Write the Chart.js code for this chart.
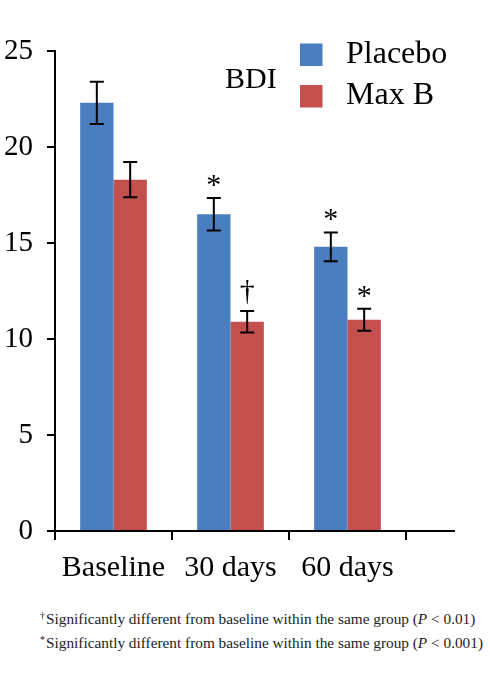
<!DOCTYPE html>
<html>
<head>
<meta charset="utf-8">
<script src="https://cdn.jsdelivr.net/npm/chart.js@4.4.1/dist/chart.umd.min.js"></script>
<style>
  html, body { margin: 0; padding: 0; background: #fff; }
  #wrap { position: relative; width: 490px; height: 689px; }
  #box { position: absolute; left: 0; top: 0; width: 490px; height: 600px; }
  .note { position: absolute; left: 40px; font: 15.3px "Liberation Serif", serif; color: #222; white-space: nowrap; }
  .note sup { font-size: 10px; vertical-align: 5px; margin-right: 1px; }
</style>
</head>
<body>
<div id="wrap">
  <div id="box"><canvas id="chart"></canvas></div>
  <div class="note" style="top:610px"><sup>†</sup>Significantly different from baseline within the same group (<i>P</i> &lt; 0.01)</div>
  <div class="note" style="top:634px"><sup>*</sup>Significantly different from baseline within the same group (<i>P</i> &lt; 0.001)</div>
</div>
<script>
const categories = ['Baseline', '30 days', '60 days']
const seriesNames = ['Placebo', 'Max B']
const placebo = [22.3, 16.5, 14.8]
const maxB = [18.3, 10.9, 11.0]
const placeboErr = [1.1, 0.85, 0.75]
const maxBErr = [0.92, 0.56, 0.57]
const placeboMarks = ['', '*', '*']
const maxBMarks = ['', '†', '*']
const yTicks = [0, 5, 10, 15, 20, 25]
const chartTitle = 'BDI'

const blue = '#4a7ebf'
const red = '#c4504d'
const serif = 'Liberation Serif'

// error bars + significance marks, drawn from the y scale
const errorBars = {
  id: 'errorBars',
  afterDatasetsDraw(chart) {
    const ctx = chart.ctx
    const y = chart.scales.y
    chart.data.datasets.forEach((ds, i) => {
      const meta = chart.getDatasetMeta(i)
      meta.data.forEach((bar, j) => {
        const v = ds.data[j]
        const e = ds.err[j]
        const top = y.getPixelForValue(v + e)
        const bot = y.getPixelForValue(v - e)
        ctx.save()
        ctx.strokeStyle = '#000'
        ctx.lineWidth = 2
        ctx.beginPath()
        ctx.moveTo(bar.x, top); ctx.lineTo(bar.x, bot)
        ctx.moveTo(bar.x - 7, top); ctx.lineTo(bar.x + 7, top)
        ctx.moveTo(bar.x - 7, bot); ctx.lineTo(bar.x + 7, bot)
        ctx.stroke()
        const mark = ds.marks[j]
        if (mark) {
          ctx.fillStyle = '#000'
          ctx.font = `30px "${serif}"`
          ctx.textAlign = 'center'
          ctx.textBaseline = 'alphabetic'
          // the dagger hangs below its baseline, so lift it a bit more
          ctx.fillText(mark, bar.x, top - (mark === '†' ? 11 : 4))
        }
        ctx.restore()
      })
    })
  }
}

// legend, title and the axis line running past the last category
const extras = {
  id: 'extras',
  afterDraw(chart) {
    const ctx = chart.ctx
    const area = chart.chartArea
    ctx.save()
    ctx.strokeStyle = '#000'
    ctx.lineWidth = 2
    ctx.beginPath()
    ctx.moveTo(area.right, area.bottom)
    ctx.lineTo(area.right + 49, area.bottom)
    ctx.stroke()

    ctx.fillStyle = '#000'
    ctx.font = `30px "${serif}"`
    ctx.textBaseline = 'alphabetic'
    ctx.fillText(chartTitle, 225, 88)

    chart.data.datasets.forEach((ds, i) => {
      const cy = 54.5 + i * 41.5
      ctx.fillStyle = ds.backgroundColor
      ctx.fillRect(300, cy - 11, 22.5, 22.5)
      ctx.fillStyle = '#000'
      ctx.font = `32px "${serif}"`
      ctx.textBaseline = 'middle'
      ctx.fillText(ds.label, 346, cy)
    })
    ctx.restore()
  }
}

const data = {
  labels: categories,
  datasets: [
    { label: seriesNames[0], data: placebo, err: placeboErr, marks: placeboMarks, backgroundColor: blue },
    { label: seriesNames[1], data: maxB, err: maxBErr, marks: maxBMarks, backgroundColor: red },
  ]
}

const config = {
  type: 'bar',
  data: data,
  options: {
    responsive: true,
    maintainAspectRatio: false,
    animation: false,
    layout: { padding: { top: 51, right: 84, bottom: 0, left: 0 } },
    datasets: {
      bar: { categoryPercentage: 0.57, barPercentage: 1.0, borderWidth: 0 }
    },
    scales: {
      x: {
        afterFit(scale) { scale.height = 69 },
        border: { color: '#000', width: 2 },
        grid: { drawOnChartArea: false, tickLength: 9, color: '#000', lineWidth: 2 },
        ticks: { color: '#000', padding: 10, font: { family: serif, size: 30 } },
      },
      y: {
        min: 0,
        max: 25,
        afterFit(scale) { scale.width = 55 },
        afterBuildTicks(scale) { scale.ticks = yTicks.map(v => ({ value: v })) },
        border: { color: '#000', width: 2 },
        grid: { drawOnChartArea: false, tickLength: 8, color: '#000', lineWidth: 2 },
        ticks: { color: '#000', padding: 14, font: { family: serif, size: 29 } },
      },
    },
    plugins: {
      legend: { display: false },
      tooltip: { enabled: false },
    },
  },
  plugins: [errorBars, extras],
}

new Chart(document.getElementById('chart'), config)
</script>
</body>
</html>
